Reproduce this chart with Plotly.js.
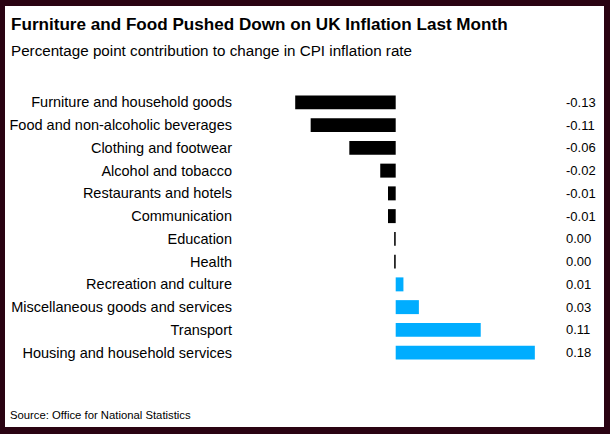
<!DOCTYPE html>
<html><head><meta charset="utf-8">
<script src="https://cdn.plot.ly/plotly-3.0.1.min.js"></script>
<style>
html,body{margin:0;padding:0;background:#2a0312;width:610px;height:434px;overflow:hidden}
#chart{position:absolute;left:5px;top:6px;width:599px;height:421px;background:#fff}
</style></head>
<body><div id="chart"></div>
<script>
const categories = [
  "Furniture and household goods",
  "Food and non-alcoholic beverages",
  "Clothing and footwear",
  "Alcohol and tobacco",
  "Restaurants and hotels",
  "Communication",
  "Education",
  "Health",
  "Recreation and culture",
  "Miscellaneous goods and services",
  "Transport",
  "Housing and household services"
];
const values = [-0.13, -0.11, -0.06, -0.02, -0.01, -0.01, -0.002, -0.002, 0.01, 0.03, 0.11, 0.18];
const valueLabels = ["-0.13", "-0.11", "-0.06", "-0.02", "-0.01", "-0.01", "0.00", "0.00", "0.01", "0.03", "0.11", "0.18"];
const titleText = "Furniture and Food Pushed Down on UK Inflation Last Month";
const subtitleText = "Percentage point contribution to change in CPI inflation rate";
const sourceText = "Source: Office for National Statistics";

const W = 599, H = 421;
const m = {l: 235, r: 60, t: 84.6, b: 62.9};
const pw = W - m.l - m.r, ph = H - m.t - m.b;
const zeroPx = 390.7, scale = 773;
const xmin = -(zeroPx - m.l) / scale, xmax = xmin + pw / scale;
const px2x = px => (px - m.l) / pw;
const px2y = py => (m.t + ph - py) / ph;
const FONT = "Liberation Sans, Arial, sans-serif";

const trace = {
  type: "bar", orientation: "h",
  y: categories, x: values,
  marker: {color: values.map(v => v < 0 ? "#000000" : "#00adff"), line: {width: 0}},
  hoverinfo: "none"
};

const annotations = [
  {text: "<b>" + titleText + "</b>", xref: "paper", yref: "paper", x: px2x(3.5), y: px2y(17.5),
   xanchor: "left", yanchor: "middle", showarrow: false, font: {family: FONT, size: 17.1, color: "#000"}},
  {text: subtitleText, xref: "paper", yref: "paper", x: px2x(3.5), y: px2y(44),
   xanchor: "left", yanchor: "middle", showarrow: false, font: {family: FONT, size: 15.2, color: "#000"}},
  {text: sourceText, xref: "paper", yref: "paper", x: px2x(2.5), y: px2y(409),
   xanchor: "left", yanchor: "middle", showarrow: false, font: {family: FONT, size: 11.3, color: "#000"}}
];
valueLabels.forEach((t, i) => annotations.push({
  text: t, xref: "paper", yref: "y", x: px2x(558.5), y: categories[i],
  xanchor: "left", yanchor: "middle", showarrow: false, font: {family: FONT, size: 13, color: "#000"}
}));

const layout = {
  width: W, height: H,
  margin: m,
  paper_bgcolor: "#ffffff", plot_bgcolor: "#ffffff",
  showlegend: false, bargap: 0.386,
  xaxis: {range: [xmin, xmax], visible: false, fixedrange: true},
  yaxis: {type: "category", autorange: "reversed", showgrid: false, zeroline: false, showline: false,
          ticks: "", ticklabelstandoff: 7, tickfont: {family: FONT, size: 14.5, color: "#000"}, fixedrange: true},
  annotations: annotations,
  font: {family: FONT}
};
Plotly.newPlot("chart", [trace], layout, {displayModeBar: false, staticPlot: true});
</script></body></html>
